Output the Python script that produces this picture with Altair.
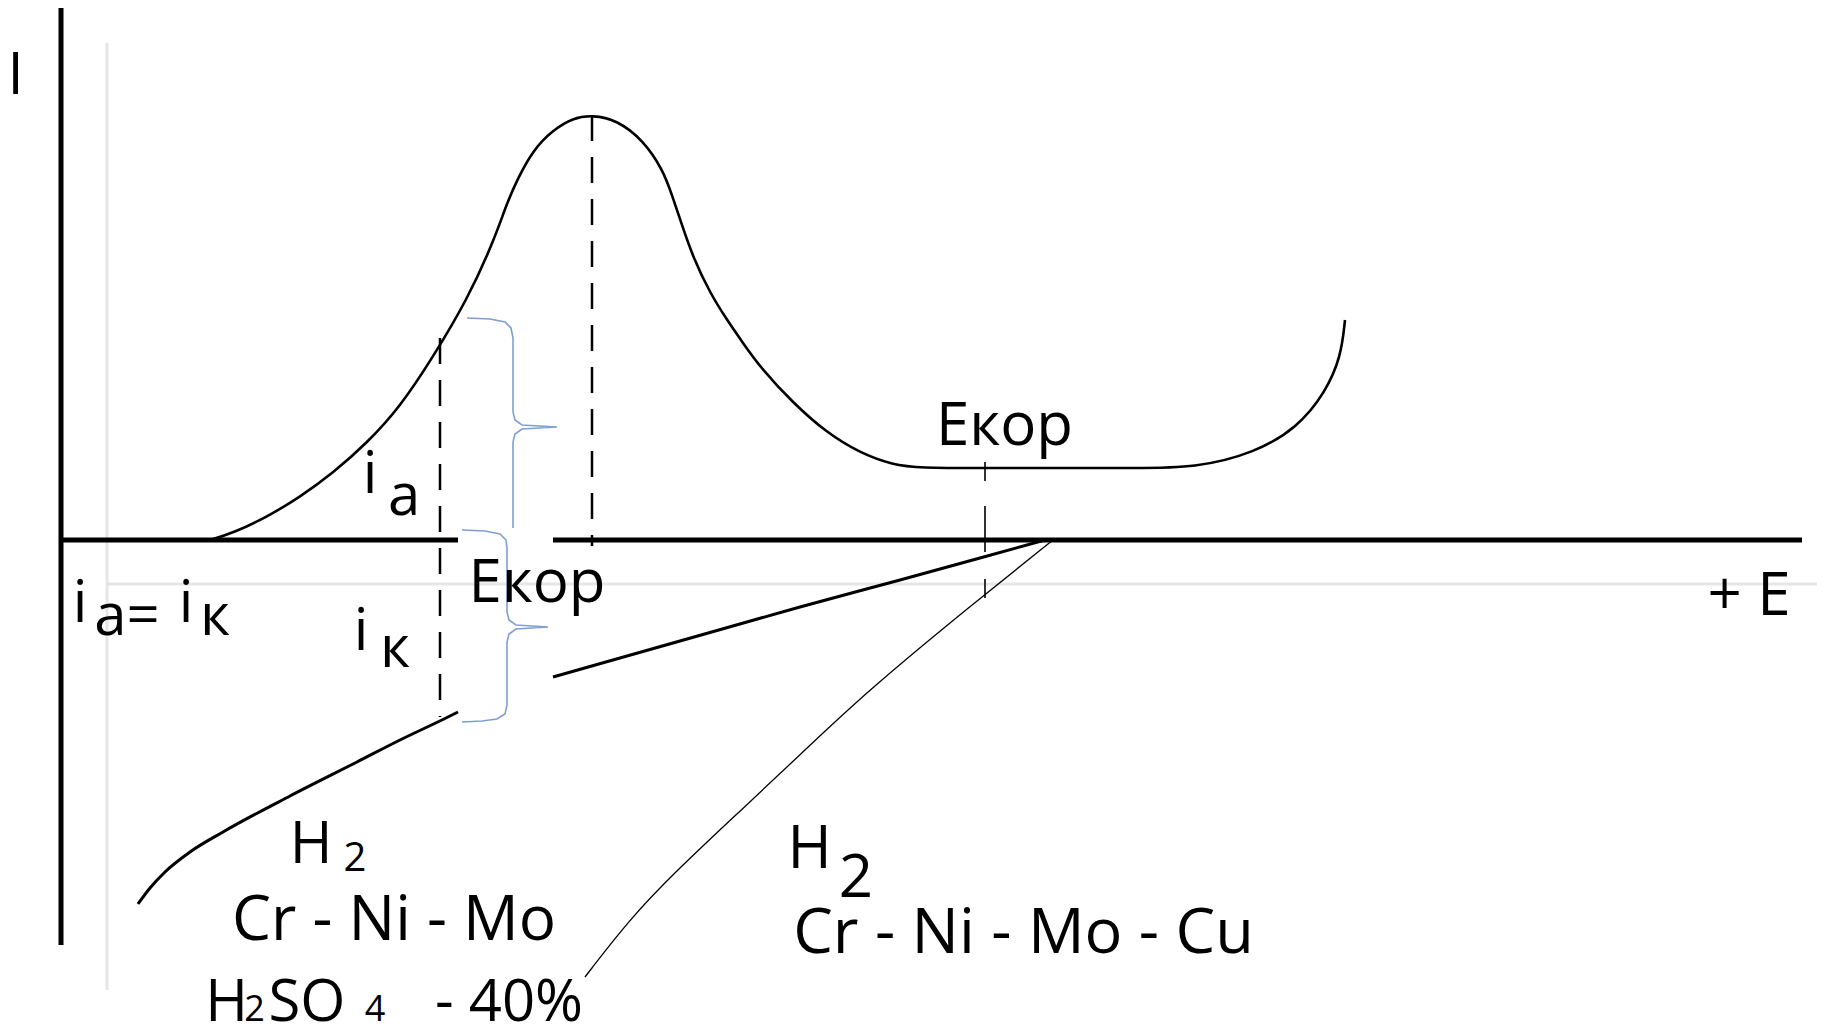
import altair as alt
import pandas as pd

# Frame: E along the horizontal (potential) axis, I along the vertical (current) axis,
# origin where the two drawn axes cross.
E_DOMAIN = [-52, 1757]
I_DOMAIN = [-494, 532]

# anodic polarization curve (active peak, passive plateau, transpassive rise)
anodic_E = [150, 173, 207, 240, 273, 307, 340, 373, 407, 433, 447, 457, 473, 493, 513, 532,
            557, 583, 603, 612, 623, 633, 650, 667, 683, 700, 733, 767, 800, 833, 860,
            920, 1000, 1075, 1135, 1195, 1238, 1265, 1281, 1285]
anodic_I = [0, 7, 23, 43, 67, 97, 133, 183, 240, 297, 337, 360, 390, 410, 422, 425,
            420, 400, 370, 345, 312, 283, 247, 220, 197, 173, 137, 107, 87, 75, 72,
            72, 72, 72, 72, 87, 113, 147, 183, 220]

# cathodic curve, Cr-Ni-Mo (thick, two pieces)
cath_low_E = [78, 90, 105, 130, 163, 230, 297, 340, 386, 398]
cath_low_I = [-364, -348, -332, -312, -292, -256, -222, -200, -178, -172]
cath_up_E = [493, 620, 740, 840, 920, 985]
cath_up_I = [-137, -101, -67, -40, -18, 0]

# cathodic curve, Cr-Ni-Mo-Cu (thin)
thin_E = [993, 914, 805, 742, 678, 614, 569, 525]
thin_I = [0, -63, -153, -213, -273, -333, -380, -437]

# axes
axis_E0 = [1, 2, 493]
axis_E1 = [1, 398, 1742]
axis_I0 = [532, 0, 0]
axis_I1 = [-405, 0, 0]

# dashed guide lines (peak and i_a)
dash_E = [532, 380]
dash_I0 = [425, 202]
dash_I1 = [-6, -177]

# broken marker under the upper Екор label
ekor_E = [925]
ekor_I0 = [78]
ekor_I1 = [-60]

# faint ghost lines of the underlying scan
ghost_E0 = [47, 47]
ghost_E1 = [47, 1757]
ghost_I0 = [497, -44]
ghost_I1 = [-450, -44]

# blue braces
brace_up_E = [407, 430, 445, 451, 453, 453, 455, 462, 497, 462, 455, 453, 453]
brace_up_I = [222, 221, 218, 212, 202, 128, 120, 115, 113, 111, 106, 98, 12]
brace_low_E = [402, 425, 440, 446, 447, 447, 449, 456, 488, 456, 449, 447, 447, 445, 437, 422, 402]
brace_low_I = [10, 9, 6, 0, -8, -72, -80, -85, -87, -89, -94, -102, -165, -174, -179, -181, -182]

# labels
label_text = ["I", "+ E", "Екор", "Екор", "i", "a", "i", "a=", "i", "к", "i", "к",
              "H", "2", "Cr - Ni - Mo", "H", "2", "SO", "4", "- 40%",
              "H", "2", "Cr - Ni - Mo - Cu"]
label_E = [-44.5, 1689, 944.5, 477, 310, 344, 20, 67, 126, 155, 301, 335,
           251, 295, 334, 166.5, 194.5, 247, 315, 449,
           749.5, 796, 963.5]
label_I = [446, -75, 95, -62, 47, 25, -82, -95, -82, -95, -110, -127,
           -323, -331, -400, -481, -481, -481, -481, -481,
           -328, -357, -413]
label_size = [58, 60, 60, 60, 58, 58, 58, 58, 58, 58, 58, 58,
              58, 40, 62, 58, 36, 58, 36, 58,
              60, 60, 63]


def X(f):
    return alt.X(f, type="quantitative", scale=alt.Scale(domain=E_DOMAIN, nice=False, zero=False), axis=None)


def Y(f):
    return alt.Y(f, type="quantitative", scale=alt.Scale(domain=I_DOMAIN, nice=False, zero=False), axis=None)


ghost_df = pd.DataFrame({"E0": ghost_E0, "E1": ghost_E1, "I0": ghost_I0, "I1": ghost_I1})
axis_df = pd.DataFrame({"E0": axis_E0, "E1": axis_E1, "I0": axis_I0, "I1": axis_I1})
dash_df = pd.DataFrame({"E0": dash_E, "E1": dash_E, "I0": dash_I0, "I1": dash_I1})
ekor_df = pd.DataFrame({"E0": ekor_E, "E1": ekor_E, "I0": ekor_I0, "I1": ekor_I1})
anodic_df = pd.DataFrame({"E": anodic_E, "I": anodic_I})
cath_df = pd.concat([
    pd.DataFrame({"E": cath_low_E, "I": cath_low_I, "s": "low"}),
    pd.DataFrame({"E": cath_up_E, "I": cath_up_I, "s": "up"}),
])
thin_df = pd.DataFrame({"E": thin_E, "I": thin_I})
brace_df = pd.concat([
    pd.DataFrame({"E": brace_up_E, "I": brace_up_I, "b": "up", "k": list(range(len(brace_up_E)))}),
    pd.DataFrame({"E": brace_low_E, "I": brace_low_I, "b": "low", "k": list(range(len(brace_low_E)))}),
])
label_df = pd.DataFrame({"t": label_text, "E": label_E, "I": label_I, "fs": label_size})

ghost = alt.Chart(ghost_df).mark_rule(color="#e6e6e6", strokeWidth=3).encode(
    x=X("E0"), x2="E1", y=Y("I0"), y2="I1")
axes = alt.Chart(axis_df).mark_rule(color="black", strokeWidth=5, strokeCap="butt").encode(
    x=X("E0"), x2="E1", y=Y("I0"), y2="I1")
dashes = alt.Chart(dash_df).mark_rule(color="black", strokeWidth=2.5, strokeDash=[26, 16]).encode(
    x=X("E0"), x2="E1", y=Y("I0"), y2="I1")
ekor = alt.Chart(ekor_df).mark_rule(color="black", strokeWidth=1.6, strokeDash=[19, 25, 46, 27, 19, 40]).encode(
    x=X("E0"), x2="E1", y=Y("I0"), y2="I1")
anodic = alt.Chart(anodic_df).mark_line(color="black", strokeWidth=2.6, interpolate="basis").encode(
    x=X("E"), y=Y("I"))
cath = alt.Chart(cath_df).mark_line(color="black", strokeWidth=3, interpolate="monotone").encode(
    x=X("E"), y=Y("I"), detail="s:N")
thin = alt.Chart(thin_df).mark_line(color="black", strokeWidth=1.3, interpolate="basis").encode(
    x=X("E"), y=Y("I"))
braces = alt.Chart(brace_df).mark_line(color="#7f9fd4", strokeWidth=1.6, interpolate="linear").encode(
    x=X("E"), y=Y("I"), detail="b:N", order="k:Q")
labels = alt.Chart(label_df).mark_text(font="Open Sans", color="black", baseline="alphabetic", align="center").encode(
    x=X("E"), y=Y("I"), text="t:N", size=alt.Size("fs:Q", scale=None, legend=None))

chart = alt.layer(ghost, axes, dashes, ekor, anodic, cath, thin, braces, labels).properties(
    width=1809, height=1026, autosize=alt.AutoSizeParams(type="none"), padding=0,
    background="white"
).configure_view(stroke=None)

chart.save("out.html", embed_options={"renderer": "svg", "actions": False})
